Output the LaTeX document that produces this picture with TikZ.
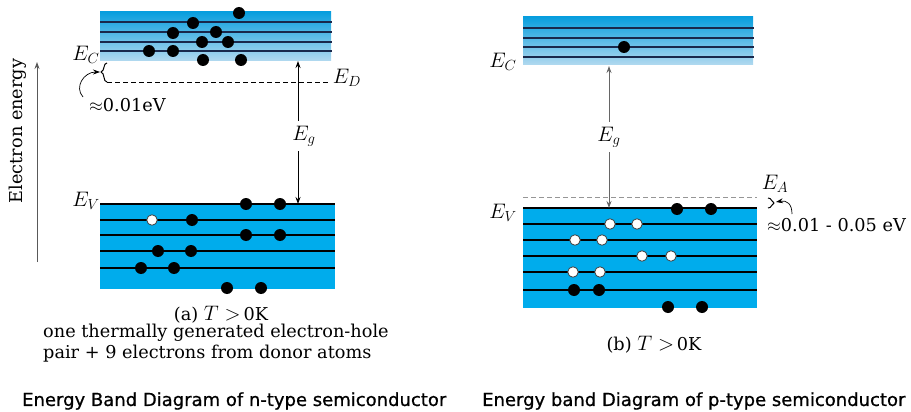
\RequirePackage{fix-cm}
\documentclass[tikz,border=0pt]{standalone}
\usepackage{fontspec}
\newfontfamily\captionfont[FakeBold=0.8]{DejaVu Sans}
\newfontfamily\labelfont{DejaVu Serif}
\usetikzlibrary{arrows.meta,calc,positioning}
\definecolor{bandblue}{RGB}{0,172,236}
\definecolor{cbtop}{RGB}{8,158,222}
\definecolor{cbbot}{RGB}{178,217,239}
\definecolor{levelnavy}{RGB}{25,40,75}
\definecolor{dashgrey}{RGB}{150,150,150}
\tikzset{
  lbl/.style={font=\labelfont\fontsize{17.7}{21}\selectfont,inner sep=0pt},
  mlbl/.style={font=\fontsize{21}{24}\selectfont,inner sep=0pt},
  electron/.style={circle,fill=black,minimum size=12pt,inner sep=0pt},
  hole/.style={circle,fill=white,draw=black!75,line width=0.8pt,minimum size=10.5pt,inner sep=0pt},
  level/.style={line width=1.2pt},
  arr/.style={-{Stealth[length=7pt,width=5pt]},line width=0.9pt},
  caption/.style={font=\captionfont\fontsize{18}{22}\selectfont,inner sep=0pt}
}
\newcommand{\Tgt}{{\fontsize{21}{24}\selectfont$T>$}\,0K}

\begin{document}
\begin{tikzpicture}[x=1pt,y=-1pt]
\useasboundingbox (0,0) rectangle (911,412);
% n-type: bands
\shade[top color=cbtop,bottom color=cbbot] (100,12) rectangle (331,61);
\foreach \y in {22,32,42,51} \draw[level,levelnavy] (100,\y) -- (332,\y);
\fill[bandblue] (100,204) rectangle (335,289);
\foreach \y in {204,220,235,251,268} \draw[level] (100,\y) -- (335,\y);
\foreach \x/\y [count=\i] in {239/13,193/23,173/33,216/32,202/42,228/42,149/51,173/51,203/60,241/60}
  \node[electron] (ne\i) at (\x,\y) {};
\foreach \x/\y [count=\i] in {246/204,280/204,192/220,246/235,280/235,158/251,191/251,141/268,174/268,227/288,261/288}
  \node[electron] (nv\i) at (\x,\y) {};
\node[hole] (nh1) at (152,220) {};
\node[mlbl] (nEC) at (86,55) {$E_C$};
\node[mlbl] (nEV) at (86,201) {$E_V$};
% n-type: donor level
\node[mlbl] (nED) at (347,78) {$E_D$};
\coordinate (nDleft) at (107,82);
\draw[dashed,dash pattern=on 5pt off 3pt,line width=0.8pt] (nDleft) -- ($(nDleft -| nED.west)+(-4,0)$);
\draw[line width=1pt] (107,63) .. controls (103,63) and (105,71) .. (101,72) .. controls (105,73) and (103,82) .. (107,82);
\draw[arr,line width=0.7pt] (83,97) .. controls (74,87) and (84,72) .. (100,72);
\node[lbl,anchor=west] (nDgap) at (89,105) {$\approx$0.01eV};
% n-type: gap
\coordinate (nCB) at (298,61);
\coordinate (nVB) at (298,204);
\node[mlbl,inner sep=5pt] (nEg) at (304,136) {$E_g$};
\draw[arr] (nEg.north -| nCB) -- (nCB);
\draw[arr] (nEg.south -| nVB) -- (nVB);
% energy axis
\coordinate (eaxbot) at (37,262);
\coordinate (eaxtop) at (37,62);
\draw[arr,black!65] (eaxbot) -- (eaxtop);
\node[lbl,rotate=90] (nAxis) at (18,131) {Electron energy};
\node[lbl] (nCapA) at (221,315) {(a) \Tgt};
\node[lbl,anchor=west] (nNote1) at (43,333) {one thermally generated electron-hole};
\node[lbl,anchor=west] (nNote2) at (43,354) {pair + 9 electrons from donor atoms};
\node[caption,anchor=west] (nTitleN) at (22,401) {Energy Band Diagram of n-type semiconductor};

% p-type: bands
\shade[top color=cbtop,bottom color=cbbot] (523,17) rectangle (753,65);
\foreach \y in {28,38,47,57} \draw[level,levelnavy] (523,\y) -- (754,\y);
\fill[bandblue] (523,208) rectangle (757,308);
\foreach \y in {208,224,240,256,272,290} \draw[level] (523,\y) -- (757,\y);
\node[electron] (pe1) at (624,47) {};
\foreach \x/\y [count=\i] in {677/209,711/209,574/290,599/290,668/307,702/307}
  \node[electron] (pv\i) at (\x,\y) {};
\foreach \x/\y [count=\i] in {610/224,637/224,575/240,602/240,642/256,671/256,573/272,600/272}
  \node[hole] (ph\i) at (\x,\y) {};
\node[mlbl] (pEC) at (503,62) {$E_C$};
\node[mlbl] (pEV) at (503,213) {$E_V$};
% p-type: acceptor level
\node[mlbl] (pEA) at (775,184) {$E_A$};
\draw[dashgrey,dashed,dash pattern=on 5pt off 3pt,line width=0.9pt] (523,197) -- (757,197);
\draw[line width=1pt] (768,198) .. controls (772,198) and (771,202) .. (774,203) .. controls (771,204) and (772,208) .. (768,208);
\draw[arr,line width=0.7pt] (792,214) .. controls (792,204) and (787,200) .. (776,202);
\node[lbl,anchor=west] (pAgap) at (767,225) {$\approx$0.01 - 0.05 eV};
% p-type: gap
\coordinate (pCB) at (609,66);
\coordinate (pVB) at (609,208);
\node[mlbl,inner sep=5pt] (pEg) at (609,137) {$E_g$};
\draw[arr,black!60] (pEg.north -| pCB) -- (pCB);
\draw[arr,black!60] (pEg.south -| pVB) -- (pVB);
\node[lbl] (pCapB) at (654,345) {(b) \Tgt};
\node[caption,anchor=west] (pTitleP) at (482,401) {Energy band Diagram of p-type semiconductor};
\end{tikzpicture}
\end{document}
